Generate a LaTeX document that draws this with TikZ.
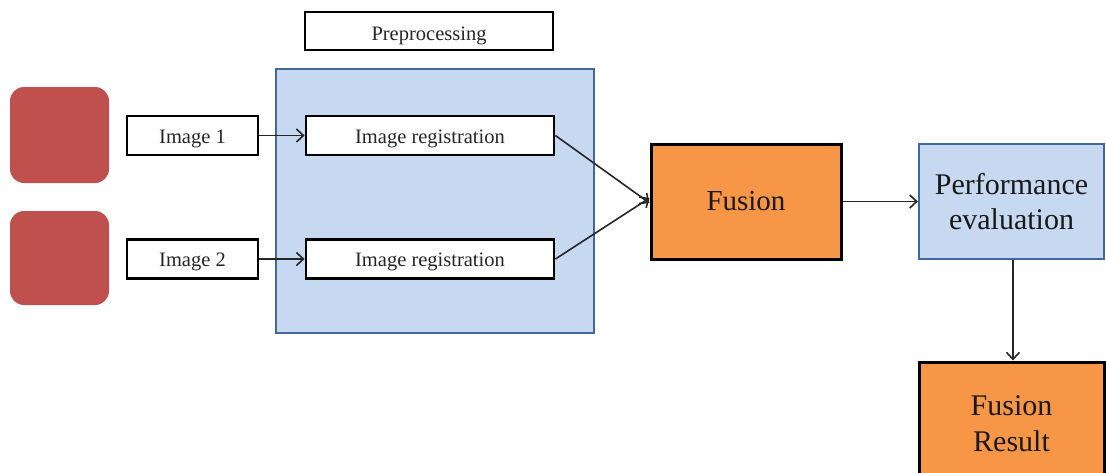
\documentclass[tikz,border=0pt]{standalone}
\usepackage{fontspec}
\setmainfont{Liberation Serif}
\usetikzlibrary{arrows.meta}
\definecolor{redsq}{HTML}{C0504D}
\definecolor{lblue}{HTML}{C6D9F1}
\definecolor{bblue}{HTML}{41689D}
\definecolor{orng}{HTML}{F79646}
\definecolor{txt}{HTML}{262626}
\begin{document}
\begin{tikzpicture}[x=1pt,y=-1pt,
  whitebox/.style={draw=black,line width=2.8pt,fill=white,inner sep=0pt,
    font=\fontsize{20.5}{24}\selectfont,text=txt,text height=15pt,text depth=0pt},
  redbox/.style={fill=redsq,rounded corners=14pt,inner sep=0pt,minimum width=99pt},
  orangebox/.style={draw=black,line width=3pt,fill=orng,inner sep=0pt,align=center,
    font=\fontsize{30}{36}\selectfont,text=black!90},
  bluebox/.style={draw=bblue,line width=2.2pt,fill=lblue,inner sep=0pt,align=center,
    font=\fontsize{30}{35}\selectfont,text=black!90},
  conn/.style={line width=1.6pt,draw=black!85,-{Straight Barb[length=7pt,width=13pt,line width=1.6pt]}}]
\useasboundingbox (0,0) rectangle (1106,472);
\clip (0,0) rectangle (1106,472);
% preprocessing area
\node[draw=bblue,line width=2.2pt,fill=lblue,minimum width=318pt,minimum height=264pt,inner sep=0pt] (pre) at (435,201) {};
\node[whitebox,minimum width=248pt,minimum height=38pt,text height=18pt] (prep) at (429,31) {Preprocessing};
% red squares
\node[redbox,minimum height=96pt] (r1) at (59.5,135) {};
\node[redbox,minimum height=94pt] (r2) at (59.5,258) {};
% image boxes
\node[whitebox,minimum width=131pt,minimum height=39pt] (img1) at (192.5,135.5) {Image 1};
\node[whitebox,minimum width=131pt,minimum height=39pt] (img2) at (192.5,259) {Image 2};
\node[whitebox,minimum width=248pt,minimum height=39pt] (reg1) at (430,135.5) {Image registration};
\node[whitebox,minimum width=248pt,minimum height=39pt] (reg2) at (430,259) {Image registration};
% fusion
\node[orangebox,minimum width=190pt,minimum height=115pt,font=\fontsize{29}{35}\selectfont] (fus) at (746,201.5) {Fusion};
\node[bluebox,minimum width=185pt,minimum height=115pt] (perf) at (1011.5,201.5) {Performance\\evaluation};
\node[orangebox,minimum width=185pt,minimum height=124pt] (res) at (1011.5,424) {Fusion\\Result};
% connectors
\draw[conn] (img1.east) -- (reg1.west);
\draw[conn] (img2.east) -- (reg2.west);
\draw[conn] (reg1.east) -- ([yshift=-1.5pt]fus.west);
\draw[conn] (reg2.east) -- ([yshift=3.5pt]fus.west);
\draw[conn] (fus.east) -- (perf.west);
\draw[conn] ([xshift=1.5pt]perf.south) -- ([xshift=1.5pt]res.north);
\end{tikzpicture}
\end{document}
